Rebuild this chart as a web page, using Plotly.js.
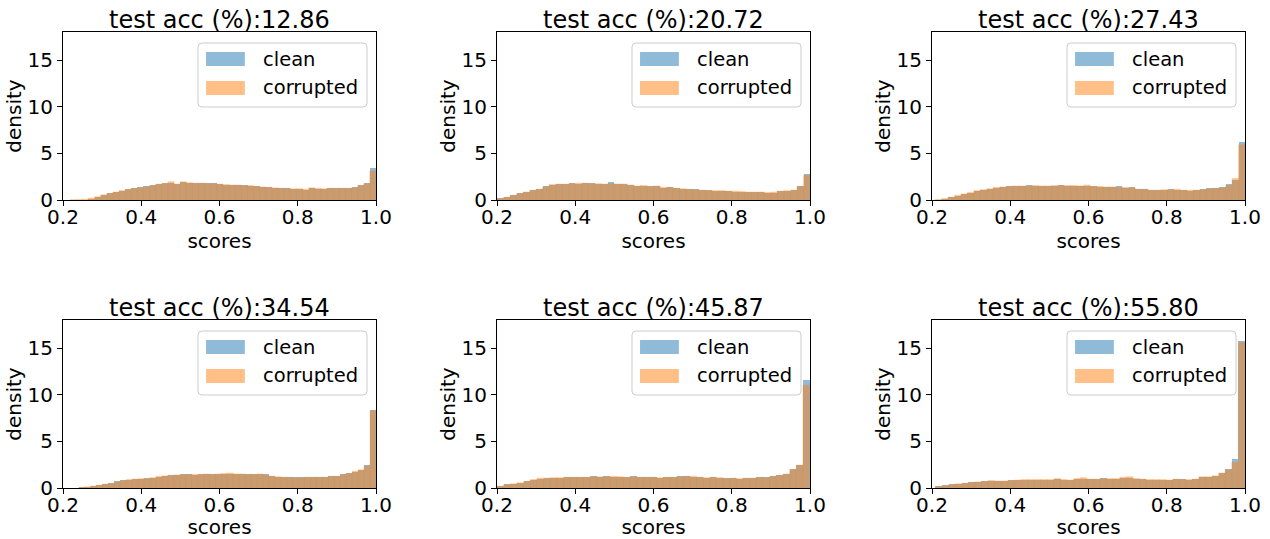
<!DOCTYPE html>
<html><head><meta charset="utf-8">
<script src="https://cdn.plot.ly/plotly-3.0.1.min.js"></script>
<style>html,body{margin:0;padding:0;background:#fff}</style>
</head><body><div id="chart" style="width:1270px;height:539px"></div>
<script>
// ---- data ----
const accLabels = ["12.86", "20.72", "27.43", "34.54", "45.87", "55.80"];
const seriesNames = ["clean", "corrupted"];
const xTicks = [0.2, 0.4, 0.6, 0.8, 1.0];
const yTicks = [0, 5, 10, 15];
// histogram bin start and bin width for each panel
const binStarts = [0.218, 0.2, 0.208, 0.24, 0.2, 0.2085];
const binWidths = [0.01564, 0.01667, 0.0165, 0.0152, 0.0170, 0.01684];

const clean1 = [0.02,0.03,0.05,0.15,0.3,0.5,0.7,0.85,1.0,1.15,1.25,1.35,1.5,1.6,1.7,1.8,1.85,1.7,1.9,1.85,1.85,1.8,1.8,1.8,1.7,1.65,1.65,1.6,1.6,1.55,1.45,1.4,1.35,1.3,1.3,1.25,1.2,1.15,1.1,1.25,1.2,1.15,1.25,1.25,1.25,1.25,1.35,1.6,1.8,3.45];
const corr1  = [0.02,0.04,0.08,0.2,0.35,0.55,0.7,0.85,1.0,1.1,1.25,1.3,1.4,1.55,1.7,1.75,1.95,1.7,1.95,1.85,1.8,1.8,1.75,1.75,1.7,1.65,1.6,1.6,1.55,1.55,1.45,1.4,1.35,1.3,1.25,1.25,1.2,1.2,1.15,1.3,1.25,1.2,1.25,1.25,1.25,1.25,1.3,1.55,1.75,3.1];

const clean2 = [0.18,0.3,0.5,0.75,0.85,1.1,1.2,1.45,1.6,1.75,1.75,1.8,1.75,1.8,1.8,1.75,1.7,1.9,1.75,1.7,1.65,1.55,1.5,1.5,1.5,1.3,1.35,1.3,1.2,1.15,1.15,1.05,1.05,0.95,1.0,1.0,0.9,0.9,0.9,0.85,0.85,0.8,0.8,0.95,1.0,1.1,1.5,2.8];
const corr2  = [0.15,0.3,0.5,0.7,0.85,1.05,1.15,1.4,1.65,1.7,1.7,1.75,1.8,1.8,1.75,1.75,1.7,1.75,1.7,1.7,1.6,1.5,1.55,1.45,1.5,1.35,1.35,1.25,1.2,1.15,1.1,1.05,1.0,1.0,1.0,0.95,0.95,0.9,0.85,0.85,0.85,0.8,0.85,0.95,1.0,1.05,1.45,2.65];

const clean3 = [0.03,0.1,0.3,0.45,0.6,0.8,0.95,1.1,1.2,1.3,1.35,1.45,1.45,1.5,1.6,1.5,1.5,1.5,1.5,1.6,1.55,1.5,1.45,1.5,1.45,1.4,1.4,1.4,1.45,1.3,1.35,1.15,1.15,1.05,1.05,1.05,1.15,1.05,1.1,1.0,1.05,1.15,1.25,1.25,1.35,1.7,2.1,6.2];
const corr3  = [0.05,0.15,0.3,0.5,0.65,0.8,1.0,1.1,1.2,1.35,1.4,1.45,1.5,1.5,1.5,1.55,1.5,1.5,1.55,1.55,1.55,1.55,1.5,1.6,1.45,1.45,1.4,1.4,1.35,1.35,1.3,1.15,1.15,1.05,1.05,1.1,1.1,1.15,1.05,1.05,1.05,1.1,1.2,1.25,1.3,1.55,2.3,5.9];

const clean4 = [0.08,0.15,0.25,0.3,0.4,0.5,0.7,0.85,0.9,0.95,0.95,1.05,1.05,1.2,1.3,1.4,1.35,1.45,1.5,1.4,1.45,1.5,1.5,1.5,1.45,1.5,1.45,1.45,1.45,1.45,1.45,1.55,1.3,1.2,1.15,1.2,1.15,1.15,1.15,1.15,1.15,1.15,1.3,1.3,1.5,1.6,1.75,1.9,2.5,8.4];
const corr4  = [0.05,0.12,0.22,0.3,0.42,0.5,0.65,0.8,0.9,0.95,1.0,1.0,1.1,1.25,1.3,1.35,1.4,1.4,1.45,1.45,1.45,1.5,1.45,1.5,1.55,1.6,1.5,1.5,1.45,1.45,1.5,1.4,1.25,1.2,1.15,1.15,1.1,1.1,1.15,1.15,1.15,1.15,1.25,1.25,1.45,1.55,1.8,1.95,2.35,8.3];

const clean5 = [0.25,0.4,0.45,0.55,0.75,0.9,1.0,1.05,1.1,1.1,1.15,1.15,1.15,1.15,1.25,1.15,1.25,1.2,1.2,1.15,1.25,1.15,1.15,1.15,1.1,1.15,1.15,1.25,1.25,1.2,1.15,1.1,1.15,1.1,1.05,1.05,0.95,1.05,1.1,1.15,1.15,1.25,1.4,1.55,2.0,2.5,11.6];
const corr5  = [0.2,0.35,0.45,0.55,0.7,0.9,1.05,1.05,1.1,1.1,1.15,1.15,1.15,1.15,1.2,1.2,1.2,1.25,1.2,1.15,1.2,1.15,1.15,1.15,1.1,1.15,1.15,1.2,1.25,1.25,1.15,1.1,1.15,1.1,1.0,1.05,1.0,1.05,1.05,1.15,1.1,1.25,1.35,1.5,1.95,2.45,11.0];

const clean6 = [0.2,0.3,0.4,0.45,0.55,0.6,0.65,0.8,0.75,0.75,0.8,0.85,0.85,0.9,0.9,0.9,0.85,0.9,0.95,0.9,0.85,0.95,1.0,0.95,0.95,1.1,1.0,1.0,1.1,1.1,1.0,0.95,0.9,0.9,0.9,0.85,1.0,1.0,0.9,0.95,1.15,1.2,1.3,1.65,2.0,3.15,15.8];
const corr6  = [0.15,0.25,0.35,0.45,0.5,0.6,0.65,0.7,0.8,0.75,0.75,0.8,0.85,0.9,0.9,0.9,0.9,0.9,1.0,0.9,0.85,1.0,1.1,0.95,0.95,1.0,1.0,1.0,1.15,1.2,1.0,0.95,0.9,0.9,0.9,0.85,0.95,0.9,0.9,0.95,1.2,1.2,1.3,1.6,1.95,2.75,15.6];

const cleanSets = [clean1, clean2, clean3, clean4, clean5, clean6];
const corrSets  = [corr1, corr2, corr3, corr4, corr5, corr6];

// ---- layout geometry (pixels) ----
const W = 1270, H = 539;
const colsPx = [[63, 376], [497, 810], [932, 1245]];
const rowsPx = [[32, 200], [320, 488]];
const FONT = "DejaVu Sans, Arial, sans-serif";
const colors = ["#1f77b4", "#ff7f0e"];

const traces = [];
const layout = {
  width: W, height: H,
  margin: {l: 0, r: 0, t: 0, b: 0},
  paper_bgcolor: "#ffffff", plot_bgcolor: "#ffffff",
  barmode: "overlay", bargap: 0,
  showlegend: false,
  font: {family: FONT, color: "#000000", size: 20},
  annotations: [], shapes: []
};

for (let p = 0; p < 6; p++) {
  const n = p + 1;
  const xa = n === 1 ? "x" : "x" + n;
  const ya = n === 1 ? "y" : "y" + n;
  const col = colsPx[p % 3], row = rowsPx[Math.floor(p / 3)];
  const centers = cleanSets[p].map((_, i) => binStarts[p] + binWidths[p] * (i + 0.5));
  [cleanSets[p], corrSets[p]].forEach((vals, s) => {
    traces.push({
      type: "bar", x: centers, y: vals, width: binWidths[p],
      name: seriesNames[s], xaxis: xa, yaxis: ya,
      marker: {color: colors[s], opacity: 0.5,
               line: s === 1 ? {width: 0.6, color: colors[1]} : {width: 0}},
      hoverinfo: "x+y+name"
    });
  });
  const axCommon = {
    showline: true, mirror: true, linecolor: "#000000", linewidth: 1,
    ticks: "outside", ticklen: 5, tickwidth: 1, tickcolor: "#000000",
    showgrid: false, zeroline: false, fixedrange: true,
    tickfont: {family: FONT, size: 20, color: "#000000"}
  };
  layout["xaxis" + (n === 1 ? "" : n)] = Object.assign({}, axCommon, {
    domain: [col[0] / W, col[1] / W], anchor: ya,
    range: [0.2, 1.0], tickvals: xTicks, tickformat: ".1f",
    ticklabelstandoff: -6,
    title: {text: "scores", font: {family: FONT, size: 20}, standoff: 4}
  });
  layout["yaxis" + (n === 1 ? "" : n)] = Object.assign({}, axCommon, {
    domain: [1 - row[1] / H, 1 - row[0] / H], anchor: xa,
    range: [0, 18], tickvals: yTicks,
    title: {text: "density", font: {family: FONT, size: 20}, standoff: 0}
  });
  // subplot title
  layout.annotations.push({
    xref: xa + " domain", yref: ya + " domain", x: 0.5, y: 1,
    xanchor: "center", yanchor: "bottom", yshift: -4, showarrow: false,
    text: "test acc (%):" + accLabels[p],
    font: {family: FONT, size: 24, color: "#000000"}
  });
  // legend frame (rounded)
  const pw = col[1] - col[0], ph = row[1] - row[0];
  const x0 = 0.4313, x1 = 0.9712, y0 = 0.5536, y1 = 0.9345;
  const rx = 4 / pw, ry = 4 / ph;
  const path = `M ${x0 + rx},${y0} L ${x1 - rx},${y0} Q ${x1},${y0} ${x1},${y0 + ry} ` +
    `L ${x1},${y1 - ry} Q ${x1},${y1} ${x1 - rx},${y1} L ${x0 + rx},${y1} ` +
    `Q ${x0},${y1} ${x0},${y1 - ry} L ${x0},${y0 + ry} Q ${x0},${y0} ${x0 + rx},${y0} Z`;
  layout.shapes.push({
    type: "path", xref: xa + " domain", yref: ya + " domain", path: path,
    fillcolor: "rgba(255,255,255,0.8)", line: {color: "#cccccc", width: 1}, layer: "above"
  });
  const rowsY = [[0.798, 0.881, 0.839], [0.625, 0.708, 0.667]];
  seriesNames.forEach((nm, s) => {
    layout.shapes.push({
      type: "rect", xref: xa + " domain", yref: ya + " domain",
      x0: 0.457, x1: 0.581, y0: rowsY[s][0], y1: rowsY[s][1],
      fillcolor: colors[s], opacity: 0.5, line: {width: 0}, layer: "above"
    });
    layout.annotations.push({
      xref: xa + " domain", yref: ya + " domain", x: 0.633, y: rowsY[s][2],
      xanchor: "left", yanchor: "middle", showarrow: false, text: nm,
      font: {family: FONT, size: 19.5, color: "#000000"}
    });
  });
}

Plotly.newPlot("chart", traces, layout, {staticPlot: true, displayModeBar: false});
</script>
</body></html>
